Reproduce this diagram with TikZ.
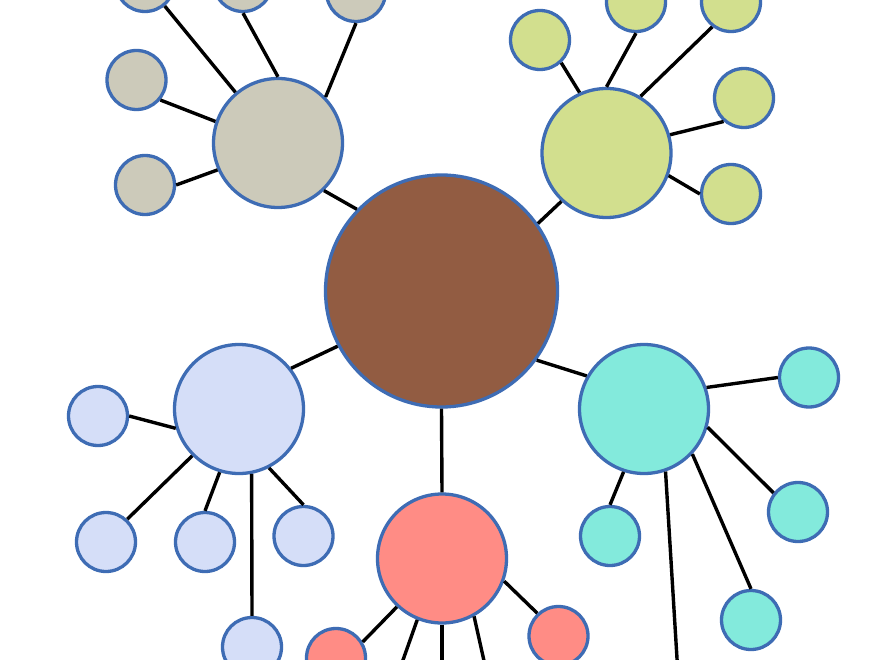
\documentclass[tikz,border=0pt]{standalone}
\definecolor{cbrown}{RGB}{146,92,66}
\definecolor{cbeige}{RGB}{204,202,186}
\definecolor{cgreen}{RGB}{210,223,142}
\definecolor{clav}{RGB}{213,222,248}
\definecolor{csalmon}{RGB}{255,140,133}
\definecolor{cteal}{RGB}{131,234,220}
\definecolor{cedge}{RGB}{62,108,180}
\tikzset{
  ball/.style={circle, draw=cedge, line width=3.3pt, inner sep=0pt},
  core/.style={ball, minimum size=232pt},
  hub/.style={ball, minimum size=129pt},
  leaf/.style={ball, minimum size=59pt},
  link/.style={draw=black, line width=3.4pt},
}
\begin{document}
\begin{tikzpicture}[x=1pt, y=-1pt]
\useasboundingbox (0,0) rectangle (880,660);
\fill[white] (0,0) rectangle (880,660);
\clip (0,0) rectangle (880,660);
% hubs
\node[core, fill=cbrown] (c) at (441.5,291) {};
\node[hub, fill=cbeige] (hb) at (278,143) {};
\node[hub, fill=cgreen] (hg) at (606.5,153) {};
\node[hub, fill=clav] (hl) at (239,409) {};
\node[hub, fill=cteal] (ht) at (644,409) {};
\node[hub, fill=csalmon] (hs) at (442,558.5) {};
% beige leaves
\node[leaf, fill=cbeige] (b1) at (145,-18) {};
\node[leaf, fill=cbeige] (b2) at (243,-18) {};
\node[leaf, fill=cbeige] (b3) at (356,-8) {};
\node[leaf, fill=cbeige] (b4) at (136.5,80) {};
\node[leaf, fill=cbeige] (b5) at (145,185) {};
% green leaves
\node[leaf, fill=cgreen] (g1) at (540,40) {};
\node[leaf, fill=cgreen] (g2) at (636,2) {};
\node[leaf, fill=cgreen] (g3) at (731,2) {};
\node[leaf, fill=cgreen] (g4) at (744,98) {};
\node[leaf, fill=cgreen] (g5) at (731,194) {};
% lavender leaves
\node[leaf, fill=clav] (l1) at (98,416) {};
\node[leaf, fill=clav] (l2) at (106,542) {};
\node[leaf, fill=clav] (l3) at (205,542) {};
\node[leaf, fill=clav] (l4) at (303.5,536) {};
\node[leaf, fill=clav] (l5) at (252,647) {};
% teal leaves
\node[leaf, fill=cteal] (t1) at (809,377.5) {};
\node[leaf, fill=cteal] (t2) at (798,512) {};
\node[leaf, fill=cteal] (t3) at (610,536) {};
\node[leaf, fill=cteal] (t4) at (751,620) {};
\node[leaf, fill=cteal] (t5) at (682,740) {};
% salmon leaves
\node[leaf, fill=csalmon] (s1) at (558.5,636) {};
\node[leaf, fill=csalmon] (s2) at (336,658) {};
\node[leaf, fill=csalmon] (s3) at (380,725) {};
\node[leaf, fill=csalmon] (s4) at (442,728) {};
\node[leaf, fill=csalmon] (s5) at (499,728) {};
% connectors
\path[link] (hb.-46) -- (c.136);
\path[link] (c.35.5) -- (hg.-133.4);
\path[link] (c.208.4) -- (hl.38.9);
\path[link] (c.-36.1) -- (ht.150.7);
\path[link] (c.south) -- (hs.north);
\path[link] (hb.130) -- (b1);
\path[link] (hb.north) -- (b2.south);
\path[link] (hb.44.4) -- (b3.south);
\path[link] (hb.161) -- (b4.-40);
\path[link] (hb.204) -- (b5.east);
\path[link] (hg.114.6) -- (g1.-47.6);
\path[link] (hg.north) -- (g2.south);
\path[link] (hg.59) -- (g3.-127);
\path[link] (hg.16.9) -- (g4.-131);
\path[link] (hg.-20.5) -- (g5.west);
\path[link] (hl.197) -- (l1.east);
\path[link] (hl.-135.6) -- (l2.47.6);
\path[link] (hl.-107.4) -- (l3.north);
\path[link] (hl.-63.8) -- (l4.north);
\path[link] (hl.-79.5) -- (l5.north);
\path[link] (ht.19.5) -- (t1.west);
\path[link] (ht.-16.8) -- (t2.142.8);
\path[link] (ht.-108.4) -- (t3.north);
\path[link] (ht.-43.8) -- (t4.north);
\path[link] (ht.-71.6) -- (t5);
\path[link] (hs.-20) -- (s1.133);
\path[link] (hs.-133.5) -- (s2.31.6);
\path[link] (hs.-112.3) -- (s3);
\path[link] (hs.south) -- (s4.north);
\path[link] (hs.-61.5) -- (s5);
\end{tikzpicture}
\end{document}
